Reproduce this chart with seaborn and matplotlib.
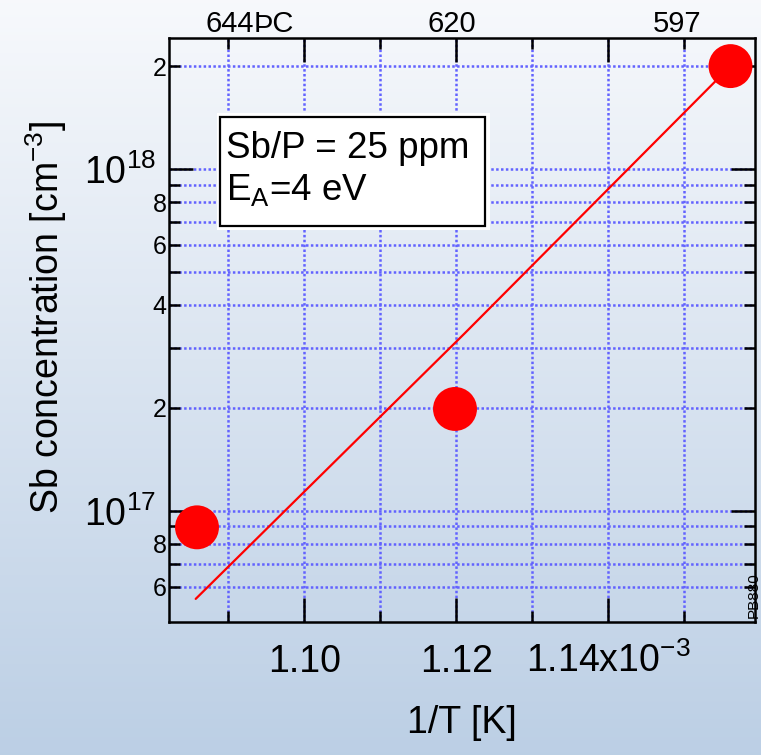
import numpy as np
import pandas as pd
import matplotlib
matplotlib.use("Agg")
import matplotlib.pyplot as plt
import seaborn as sns
from matplotlib.ticker import FixedLocator, FixedFormatter, NullFormatter
from matplotlib.patches import Rectangle
from matplotlib.colors import LinearSegmentedColormap

# ---------------- data ----------------
inv_T = [1.08588, 1.11983, 1.15608]          # 1/T in units of 1e-3 K^-1
sb_conc = [8.94e16, 1.985e17, 2.0e18]        # cm^-3
fit_inv_T = [1.08571, 1.12114, 1.15608]
fit_conc = [5.52e16, 3.31e17, 2.0e18]

x_major = [1.10, 1.12, 1.14]
x_major_labels = ["1.10", "1.12", "1.14x10$^{-3}$"]
x_minor = [1.09, 1.11, 1.13, 1.15]
y_major = [1e17, 1e18]
y_major_labels = ["$10^{17}$", "$10^{18}$"]
y_minor = [6e16, 7e16, 8e16, 9e16, 2e17, 3e17, 4e17, 5e17, 6e17, 7e17, 8e17, 9e17, 2e18]
y_minor_labels = ["6", "", "8", "", "2", "", "4", "", "6", "", "8", "", "2"]
top_temps_C = [644, 620, 597]
top_labels = ["644", "620", "597"]
top_first_suffix = "ÞC"

pts = pd.DataFrame({"invT": inv_T, "conc": sb_conc})
fit = pd.DataFrame({"invT": fit_inv_T, "conc": fit_conc})

# ---------------- style ----------------
sns.set_style("ticks")
plt.rcParams["font.family"] = ["Liberation Sans", "DejaVu Sans"]
plt.rcParams["mathtext.fontset"] = "custom"
plt.rcParams["mathtext.rm"] = "Liberation Sans"
plt.rcParams["mathtext.it"] = "Liberation Sans:italic"
plt.rcParams["mathtext.bf"] = "Liberation Sans:bold"
plt.rcParams["mathtext.default"] = "regular"
for k in ["text.color", "axes.labelcolor", "xtick.color", "ytick.color",
          "xtick.labelcolor", "ytick.labelcolor", "axes.edgecolor"]:
    plt.rcParams[k] = "black"

W, H = 761, 755
fig = plt.figure(figsize=(W / 100, H / 100), dpi=100)

# gradient background
bg = fig.add_axes([0, 0, 1, 1])
cmap = LinearSegmentedColormap.from_list("bgc", [(0.737, 0.812, 0.898), (0.969, 0.976, 0.988)])
grad = np.linspace(0, 1, 256).reshape(-1, 1)
bg.imshow(grad, aspect="auto", cmap=cmap, extent=[0, 1, 0, 1], origin="lower")
bg.set_axis_off()
bg.set_zorder(-10)

L, R, T, B = 168.5, 754.5, 38, 622
ax = fig.add_axes([L / W, 1 - B / H, (R - L) / W, (B - T) / H])
ax.patch.set_alpha(0)

sns.lineplot(data=fit, x="invT", y="conc", ax=ax, color="#ff0000", linewidth=1.6,
             estimator=None, sort=False, zorder=3)
sns.scatterplot(data=pts, x="invT", y="conc", ax=ax, color="#ff0000", s=1000,
                edgecolor="none", linewidth=0, zorder=4, clip_on=False)

ax.set_yscale("log")
ax.set_xlim(1.08213, 1.15924)
ax.set_ylim(4.724e16, 2.417e18)

ax.set_xticks(x_major, x_major_labels)
ax.set_xticks(x_minor, minor=True)
ax.xaxis.set_minor_formatter(NullFormatter())
ax.yaxis.set_major_locator(FixedLocator(y_major))
ax.yaxis.set_major_formatter(FixedFormatter(y_major_labels))
ax.yaxis.set_minor_locator(FixedLocator(y_minor))
ax.yaxis.set_minor_formatter(FixedFormatter(y_minor_labels))

grid_kw = dict(color="#6262ff", linestyle=(0, (1, 0.95)), linewidth=1.8)
ax.grid(which="both", axis="both", **grid_kw)
ax.set_axisbelow(True)

for s in ax.spines.values():
    s.set_linewidth(1.8)
    s.set_color("black")

ax.tick_params(which="both", direction="in", top=True, right=True, width=1.8, color="black",
               labelcolor="black")
ax.tick_params(which="major", length=17)
ax.tick_params(which="minor", length=8)
ax.tick_params(axis="x", which="major", labelsize=27, pad=36)
ax.tick_params(axis="y", which="major", labelsize=27, pad=9)
ax.tick_params(axis="y", which="minor", labelsize=18, pad=1.5)
plt.setp(ax.get_xticklabels(), va="baseline")

ax.set_xlabel("1/T [K]", fontsize=27, labelpad=18, color="black")
ax.set_ylabel("Sb concentration [cm$^{-3}$]", fontsize=27, color="black")
ax.yaxis.set_label_coords(-0.17, 0.522)

# top temperature labels
for tc, lab in zip(top_temps_C, top_labels):
    xpos = 1000.0 / (tc + 273.15)
    t = ax.annotate(lab, xy=(xpos, 1.0), xycoords=("data", "axes fraction"),
                    xytext=(-1, 4.5), textcoords="offset points",
                    ha="center", va="baseline", fontsize=21, color="black")
    if lab == top_labels[0]:
        ax.annotate(top_first_suffix, xy=(1.0, 0.0), xycoords=t, ha="left", va="bottom",
                    fontsize=21, color="black")

# annotation box
fig.add_artist(Rectangle((217 / W, 1 - 230 / H), 273 / W, 117 / H, transform=fig.transFigure,
                         facecolor="white", edgecolor="none", zorder=5))
fig.add_artist(Rectangle((220 / W, 1 - 226 / H), 265 / W, 109 / H, transform=fig.transFigure,
                         facecolor="white", edgecolor="black", linewidth=1.6, zorder=6))
fig.text(226 / W, 1 - 158 / H, "Sb/P = 25 ppm", fontsize=26.5, ha="left", va="baseline", zorder=7)
fig.text(226 / W, 1 - 200 / H, "E$_{A}$=4 eV", fontsize=26.5, ha="left", va="baseline", zorder=7)

fig.text(760.5 / W, 1 - 618 / H, "PB880", rotation=90, fontsize=11, ha="right", va="bottom")

fig.savefig("out.png", dpi=100)
